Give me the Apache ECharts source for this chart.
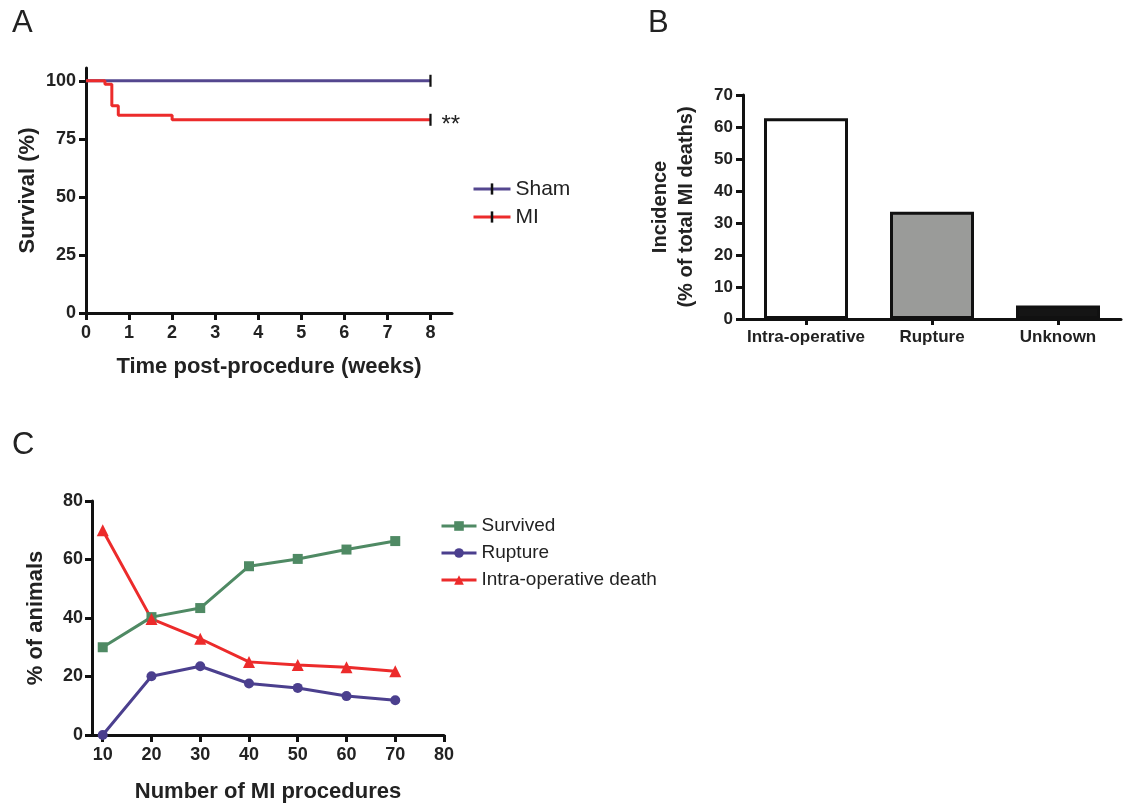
<!DOCTYPE html>
<html lang="en">
<head>
    <meta charset="UTF-8">
    <title>MI survival</title>
    <script src="https://cdn.jsdelivr.net/npm/echarts@6.0.0/dist/echarts.min.js"></script>
    <style>
        html, body { margin: 0; padding: 0; background: #fff; }
    </style>
</head>
<body>
<div id="main" style="width: 1125px; height: 807px"></div>
<script type="text/javascript">
    // panel A - Kaplan-Meier
    var weekTicks = [0, 1, 2, 3, 4, 5, 6, 7, 8];
    var survTicks = [0, 25, 50, 75, 100];
    var shamTime = [0, 8];
    var shamSurv = [100, 100];
    var miTime = [0, 0.44, 0.6, 0.75, 2, 8];
    var miSurv = [100, 98.5, 89.2, 85.2, 83.2, 83.2];

    // panel B - cause of death
    var causes = ['Intra-operative', 'Rupture', 'Unknown'];
    var incidence = [62.7, 33.5, 4.2];

    // panel C - learning curve
    var procTicks = [10, 20, 30, 40, 50, 60, 70, 80];
    var procedures = [10, 20, 30, 40, 50, 60, 70];
    var survived = [30, 40.3, 43.4, 57.7, 60.2, 63.4, 66.3];
    var rupture = [0, 20.1, 23.5, 17.6, 16.1, 13.3, 11.9];
    var intraOp = [70, 39.7, 32.9, 25.0, 23.9, 23.2, 21.8];

    var FONT = "'Liberation Sans', Arial, sans-serif";
    // thin vertical censor tick, wide bbox so it stays narrow when scaled
    var TICK = 'path://M-4,0 L-4,0 M4,0 L4,0 M-0.9,-5 L0.9,-5 L0.9,5 L-0.9,5 Z';

    function axisStyle() {
        return {
            axisLine: { show: true, lineStyle: { color: '#111', width: 3 } },
            axisTick: { show: true, length: 7, lineStyle: { color: '#111', width: 3 } },
            splitLine: { show: false }
        };
    }

    function kmData(t, s) {
        return t.map(function (x, i) {
            if (i === t.length - 1) return { value: [x, s[i]] };
            return { value: [x, s[i]], symbol: 'none' };
        });
    }

    function pairs(xs, ys) {
        return xs.map(function (x, i) { return [x, ys[i]]; });
    }

    var miPoints = kmData(miTime, miSurv);
    miPoints[miPoints.length - 1].label = {
        show: true, position: 'right', distance: 6, formatter: '**',
        fontSize: 24, fontFamily: FONT, color: '#222', offset: [0, 6]
    };

    var myChart = echarts.init(document.getElementById('main'));

    var option = {
        animation: false,
        backgroundColor: '#fff',
        textStyle: { fontFamily: FONT },
        graphic: [
            { type: 'text', left: 12, top: 8, style: { text: 'A', font: '31px ' + FONT, fill: '#222' } },
            { type: 'text', left: 648, top: 8, style: { text: 'B', font: '31px ' + FONT, fill: '#222' } },
            { type: 'text', left: 12, top: 430, style: { text: 'C', font: '31px ' + FONT, fill: '#222' } }
        ],
        grid: [
            { left: 86, top: 68, width: 366, height: 245 },
            { left: 743, top: 95, width: 378, height: 224 },
            { left: 92, top: 501, width: 352, height: 234 }
        ],
        legend: [
            {
                data: ['Sham', 'MI'],
                orient: 'vertical', left: 467, top: 173,
                itemWidth: 37, itemHeight: 14, itemGap: 6,
                lineStyle: { width: 3 },
                textStyle: { fontSize: 21, lineHeight: 22, color: '#222', fontFamily: FONT }
            },
            {
                data: ['Survived', 'Rupture', 'Intra-operative death'],
                orient: 'vertical', left: 435, top: 511,
                itemWidth: 35, itemHeight: 12, itemGap: 7,
                lineStyle: { width: 3 },
                textStyle: { fontSize: 19, lineHeight: 20, color: '#222', fontFamily: FONT }
            }
        ],
        xAxis: [
            Object.assign(axisStyle(), {
                gridIndex: 0, type: 'value', min: 0, max: 8.5,
                axisTick: { show: true, length: 7, customValues: weekTicks, lineStyle: { color: '#111', width: 3 } },
                axisLabel: { customValues: weekTicks, fontSize: 18, fontWeight: 'bold', color: '#222', margin: 11 },
                name: 'Time post-procedure (weeks)', nameLocation: 'middle', nameGap: 43,
                nameTextStyle: { fontSize: 22, fontWeight: 'bold', color: '#222' }
            }),
            Object.assign(axisStyle(), {
                gridIndex: 1, type: 'category', data: causes,
                axisTick: { show: true, alignWithLabel: true, length: 6, lineStyle: { color: '#111', width: 3 } },
                axisLabel: { interval: 0, fontSize: 17, fontWeight: 'bold', color: '#222', margin: 10 }
            }),
            Object.assign(axisStyle(), {
                gridIndex: 2, type: 'value', min: 7.8, max: 80,
                axisTick: { show: true, length: 7, customValues: procTicks, lineStyle: { color: '#111', width: 3 } },
                axisLabel: { customValues: procTicks, fontSize: 18, fontWeight: 'bold', color: '#222', margin: 11 },
                name: 'Number of MI procedures', nameLocation: 'middle', nameGap: 46,
                nameTextStyle: { fontSize: 22, fontWeight: 'bold', color: '#222' }
            })
        ],
        yAxis: [
            Object.assign(axisStyle(), {
                gridIndex: 0, type: 'value', min: 0, max: 105.5,
                axisTick: { show: true, length: 7, customValues: survTicks, lineStyle: { color: '#111', width: 3 } },
                axisLabel: { customValues: survTicks, fontSize: 18, fontWeight: 'bold', color: '#222', margin: 10 },
                name: 'Survival (%)', nameLocation: 'middle', nameGap: 47,
                nameTextStyle: { fontSize: 22, fontWeight: 'bold', color: '#222' }
            }),
            Object.assign(axisStyle(), {
                gridIndex: 1, type: 'value', min: 0, max: 70, interval: 10,
                axisLabel: { fontSize: 17, fontWeight: 'bold', color: '#222', margin: 10 },
                name: 'Incidence\n(% of total MI deaths)', nameLocation: 'middle', nameGap: 44,
                nameTextStyle: { fontSize: 20, fontWeight: 'bold', color: '#222', lineHeight: 26, align: 'center' }
            }),
            Object.assign(axisStyle(), {
                gridIndex: 2, type: 'value', min: 0, max: 80, interval: 20,
                axisLabel: { fontSize: 18, fontWeight: 'bold', color: '#222', margin: 9 },
                name: '% of animals', nameLocation: 'middle', nameGap: 45,
                nameTextStyle: { fontSize: 22, fontWeight: 'bold', color: '#222' }
            })
        ],
        series: [
            {
                name: 'Sham', type: 'line', step: 'end',
                xAxisIndex: 0, yAxisIndex: 0, z: 2,
                data: kmData(shamTime, shamSurv),
                symbol: TICK, symbolSize: [10, 12],
                itemStyle: { color: '#111' },
                lineStyle: { color: '#54478f', width: 3 }
            },
            {
                name: 'MI', type: 'line', step: 'end',
                xAxisIndex: 0, yAxisIndex: 0, z: 3,
                data: miPoints,
                symbol: TICK, symbolSize: [10, 12],
                itemStyle: { color: '#111' },
                lineStyle: { color: '#ec2b2b', width: 3 }
            },
            {
                name: 'Incidence', type: 'bar',
                xAxisIndex: 1, yAxisIndex: 1, barWidth: 84,
                data: incidence.map(function (v, i) {
                    var fills = ['#ffffff', '#9a9b99', '#151515'];
                    return { value: v, itemStyle: { color: fills[i] } };
                }),
                itemStyle: { borderColor: '#111', borderWidth: 3 }
            },
            {
                name: 'Survived', type: 'line',
                xAxisIndex: 2, yAxisIndex: 2,
                data: pairs(procedures, survived),
                symbol: 'rect', symbolSize: 10,
                itemStyle: { color: '#4f8a64' },
                lineStyle: { color: '#4f8a64', width: 3 }
            },
            {
                name: 'Rupture', type: 'line',
                xAxisIndex: 2, yAxisIndex: 2,
                data: pairs(procedures, rupture),
                symbol: 'circle', symbolSize: 10,
                itemStyle: { color: '#4b3f8e' },
                lineStyle: { color: '#4b3f8e', width: 3 }
            },
            {
                name: 'Intra-operative death', type: 'line',
                xAxisIndex: 2, yAxisIndex: 2,
                data: pairs(procedures, intraOp),
                symbol: 'triangle', symbolSize: 12,
                itemStyle: { color: '#ec2b2b' },
                lineStyle: { color: '#ec2b2b', width: 3 }
            }
        ]
    };

    myChart.setOption(option);
</script>
</body>
</html>
